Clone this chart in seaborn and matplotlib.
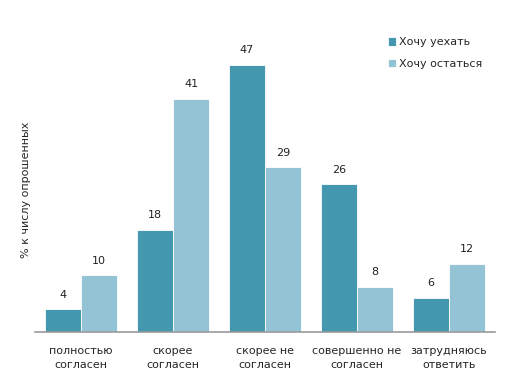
import pandas as pd
import seaborn as sns
import matplotlib.pyplot as plt

categories = ['полностью\nсогласен', 'скорее\nсогласен', 'скорее не\nсогласен',
              'совершенно не\nсогласен', 'затрудняюсь\nответить']
series_names = ['Хочу уехать', 'Хочу остаться']
leave = [4, 18, 47, 26, 6]
stay = [10, 41, 29, 8, 12]
colors = ['#4398B0', '#93C3D5']

df = pd.DataFrame({
    'cat': categories * 2,
    'series': [series_names[0]] * 5 + [series_names[1]] * 5,
    'val': leave + stay,
})

sns.set_style('white')
plt.rcParams['font.family'] = ['DejaVu Sans']

fig = plt.figure(figsize=(5.11, 3.83), dpi=100)
ax = fig.add_axes([0.0685, 0.133, 0.9, 0.742])
sns.barplot(data=df, x='cat', y='val', hue='series', palette=colors,
            width=0.79, saturation=1, edgecolor='white', linewidth=0.6, ax=ax)

for cont in ax.containers:
    ax.bar_label(cont, padding=7, fontsize=8, color='#222222')

ax.set_ylim(0, 50)
ax.set_xlim(-0.5, 4.5)
ax.set_yticks([])
ax.set_xlabel('')
ax.set_ylabel('% к числу опрошенных', fontsize=8, labelpad=3)
ax.tick_params(axis='x', length=0, labelsize=8, pad=10)
for lbl in ax.get_xticklabels():
    lbl.set_linespacing(1.55)
for s in ['top', 'right', 'left']:
    ax.spines[s].set_visible(False)
ax.spines['bottom'].set_color('#999999')
ax.spines['bottom'].set_linewidth(1.2)

leg = ax.legend(loc='upper left', bbox_to_anchor=(0.745, 1.072), frameon=False,
                fontsize=8, handlelength=0.75, handleheight=0.75,
                handletextpad=0.3, labelspacing=1.0)

fig.savefig('out.png', dpi=100)
